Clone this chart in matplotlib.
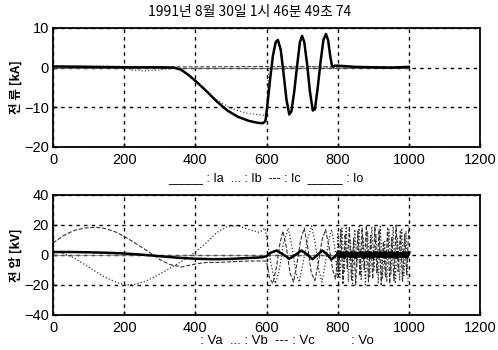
import numpy as np
import matplotlib
matplotlib.use("Agg")
import matplotlib.pyplot as plt

plt.rcParams['font.family'] = ['Liberation Sans', 'Noto Sans CJK KR', 'DejaVu Sans']

title = "1991년 8월 30일 1시 46분 49초 74"
ylabel_top = "전 류 [kA]"
ylabel_bot = "전 압 [kV]"
legend_top = "_____ : Ia  ... : Ib  --- : Ic  _____ : Io"
legend_bot = "  : Va  ... : Vb  --- : Vc          : Vo"
xticks = [0, 200, 400, 600, 800, 1000, 1200]
yticks_top = [-20, -10, 0, 10]
yticks_bot = [-40, -20, 0, 20, 40]

# ---- currents [kA]
t_ia = [0, 100, 200, 300, 340, 360, 380, 400, 430, 460, 490, 520, 550, 575, 590, 597,
        603, 610, 618, 626, 632, 640, 648, 656, 664, 670, 678, 686, 694, 700, 706, 714,
        722, 730, 736, 744, 752, 760, 767, 773, 779, 784, 788, 792, 800, 850, 900, 950, 1000]
ia = [0.3, 0.2, 0.1, 0.1, 0.0, -0.5, -1.8, -3.3, -5.8, -8.5, -10.8, -12.4, -13.4, -13.9, -14.0, -13.5,
      -9.0, -3.0, 3.0, 6.5, 7.0, 4.5, -1.5, -8.0, -11.8, -11.0, -6.0, 0.5, 6.5, 8.0, 6.5, 1.0,
      -6.0, -10.8, -10.5, -5.0, 1.5, 7.0, 8.5, 7.0, 3.0, 0.5, 0.2, 0.5, 0.5, 0.2, 0.1, 0.0, 0.2]
t_ib = [0, 100, 200, 220, 260, 300, 340, 370, 400, 450, 500, 550, 595, 600, 606, 700, 800, 900, 1000]
ib = [0.4, 0.4, 0.3, -0.6, -0.8, -0.6, 0.0, -1.2, -3.2, -7.5, -10.3, -11.6, -12.0, -11.0, -0.5, 0.3, 0.2, 0.1, 0.2]
t_ic = [0, 200, 400, 600, 800, 1000]
ic = [0.3, 0.2, 0.2, 0.3, 0.2, 0.2]
t_io = [0, 1000]
io = [0.0, 0.0]

# ---- voltages [kV]
t_va = [0, 50, 100, 150, 200, 250, 300, 350, 400, 450, 500, 550, 590, 600, 612, 628, 646, 664,
        681, 698, 714, 729, 743, 757, 770, 782, 792, 800]
va = [2.0, 2.0, 1.8, 1.5, 1.0, 0.2, -0.8, -1.8, -2.5, -2.8, -2.6, -2.0, -1.5, -0.8, 1.5, 3.0, 0.5, -2.5,
      0.0, 3.0, 0.5, -2.8, 0.0, 3.0, 0.5, -3.0, -1.0, 0.5]
va_noise = [1.5, -1.2, 1.8, -1.0, 1.4, -1.5, 1.9, -0.8, 1.2, -1.4, 1.7, -1.1, 1.5, -1.6, 1.0, -0.9,
            1.8, -1.3, 1.3, -1.5, 1.6, -1.0, 1.9, -1.2, 1.1, -1.6, 1.7, -0.9, 1.4, -1.4, 1.8, -1.1,
            1.2, -1.5, 1.6, -1.0, 1.5, -1.3, 1.9, -1.2, 1.3, -1.6, 1.7, -1.0, 1.4, -1.3, 1.8, -1.1,
            1.2, -1.4, 1.5]

t_vb = [0, 30, 60, 100, 140, 180, 205, 230, 260, 290, 320, 342, 370, 400, 430, 460, 490, 520, 550,
        580, 596, 612, 625, 636, 648, 661, 672, 683, 692, 703, 715, 727, 738, 747, 756, 766, 775,
        783, 792, 800]
vb = [3.0, 1.0, -2.0, -8.0, -14.0, -18.5, -20.0, -19.5, -17.5, -14.0, -10.0, -7.0, -3.0, 2.0, 8.0,
      15.0, 19.0, 19.5, 17.0, 15.0, 18.0, -5.0, -19.0, -10.0, 8.0, 18.0, 5.0, -12.0, -18.0, -5.0,
      10.0, 19.5, 6.0, -10.0, -18.0, -5.0, 10.0, 17.0, 5.0, -15.0]
vb_noise = [15, -16, 18, -12, 20, -18, 10, -19, 17, -8, 19, -17, 12, -20, 16, -15, 19, -10, 14,
            -19, 20, -16, 9, -18, 17, -13, 19, -19, 11, -17, 18, -14, 16, -18]

t_vc = [0, 30, 60, 90, 120, 150, 180, 210, 240, 270, 300, 330, 342, 360, 400, 430, 460, 500, 550,
        600, 608, 618, 628, 638, 646, 656, 666, 676, 686, 696, 706, 716, 726, 736, 746, 756, 766,
        776, 786, 794, 800]
vc = [8.0, 13.0, 16.5, 18.0, 18.5, 17.5, 15.0, 11.0, 6.5, 2.0, -3.0, -6.5, -7.0, -8.0, -6.0, -5.0,
      -5.0, -4.5, -4.0, -4.0, -15.0, -19.0, -8.0, 8.0, 16.0, 5.0, -12.0, -18.0, -5.0, 10.0, 18.0,
      5.0, -12.0, -17.0, -5.0, 10.0, 17.0, 5.0, -10.0, -16.0, 0.0]
vc_noise = [-12, 17, -19, 14, -9, 19, -17, 11, -20, 16, -14, 18, -10, 20, -18, 13, -16, 19, -12,
            17, -20, 9, -15, 18, -19, 12, -17, 20, -11, 16, -18, 14, -13, 19]
t_vo = [0, 1000]
vo = [0.0, 0.0]

fig = plt.figure(figsize=(4.98, 3.5), dpi=100)
ax1 = fig.add_axes([53/498, 1-147/350, 427/498, 119/350])
ax2 = fig.add_axes([53/498, 1-315/350, 427/498, 120/350])

grid_kw = dict(color='black', linestyle=(0, (2.5, 3.0)), linewidth=1.0)

# top
ax1.plot(t_io, io, color='#555555', lw=0.6)
ax1.plot(t_ic, ic, color='#444444', lw=0.8, ls='--')
ax1.plot(t_ib, ib, color='#555555', lw=0.9, ls=':')
ax1.plot(t_ia, ia, color='black', lw=1.8)
ax1.set_xlim(0, 1200)
ax1.set_ylim(-20, 10)
ax1.set_yticks(yticks_top)
ax1.set_ylabel(ylabel_top, family=['Noto Sans CJK KR'], fontsize=9, fontweight='bold', labelpad=1)

# bottom
t_noise_b = np.linspace(800, 998, len(vb_noise))
t_noise_c = np.linspace(803, 1000, len(vc_noise))
t_noise_a = np.linspace(800, 1000, len(va_noise))
ax2.plot(t_vo, vo, color='#777777', lw=0.5)
ax2.plot(list(t_vc) + list(t_noise_c), vc + vc_noise, color='#333333', lw=0.8, ls='--')
ax2.plot(list(t_vb) + list(t_noise_b), vb + vb_noise, color='#333333', lw=0.9, ls=':')
ax2.plot(t_va, va, color='black', lw=1.8)
ax2.plot(t_noise_a, va_noise, color='black', lw=2.2)
ax2.set_xlim(0, 1200)
ax2.set_ylim(-40, 40)
ax2.set_yticks(yticks_bot)
ax2.set_ylabel(ylabel_bot, family=['Noto Sans CJK KR'], fontsize=9, fontweight='bold', labelpad=1)

for ax in (ax1, ax2):
    ax.set_xticks(xticks)
    ax.grid(True, **grid_kw)
    ax.tick_params(direction='in', length=3, labelsize=10.5, width=1)
    ax.tick_params(axis='x', pad=4)
    ax.tick_params(axis='y', pad=3)
    for s in ax.spines.values():
        s.set_linewidth(1.3)

fig.text(250/498, 1-12/350, title, ha='center', va='center', fontsize=10,
         family=['Noto Sans CJK KR'])
fig.text(266/498, 1-178/350, legend_top, ha='center', va='center', fontsize=9)
fig.text(283/498, 1-341/350, legend_bot, ha='center', va='center', fontsize=9.5)

fig.savefig("out.png", dpi=100)
